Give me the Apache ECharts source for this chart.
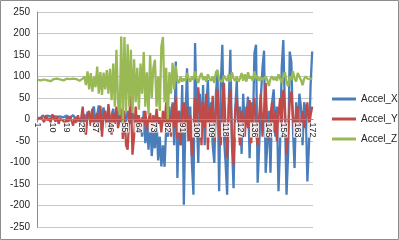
<!DOCTYPE html>
<html><head><meta charset="utf-8">
<script src="https://cdn.jsdelivr.net/npm/echarts@6/dist/echarts.min.js"></script>
<style>html,body{margin:0;padding:0;background:#fff}#c{width:399px;height:240px}</style>
</head><body><div id="c"></div>
<script>
var yTicks = [-250,-200,-150,-100,-50,0,50,100,150,200,250];
var seriesNames = ['Accel_X','Accel_Y','Accel_Z'];
var accelX = [
 4,8,3,10,6,2,9,5,7,3,8,11,6,4,7,10,5,8,9,6,3,7,10,5,8,4,-2,-8,
 5,12,-5,18,8,-10,22,30,-17,10,33,-25,15,28,5,-12,20,-30,
 10,25,-5,15,0,30,-15,-28,10,-5,20,0,-10,15,
 5,-20,10,-30,0,-40,20,-55,-10,-70,10,-85,-30,-67,0,-95,-40,-109,-60,-110,-20,-40,
 30,-20,40,-60,135,-136,20,-60,80,-198,0,119,-50,30,-100,-175,178,20,-101,60,
 -40,80,-60,30,92,-30,40,-60,-101,60,112,-167,80,174,-40,-100,-175,40,162,-60,
 -160,20,90,-40,30,-80,60,-20,10,53,-90,40,-30,155,174,-147,-60,50,120,160,
 -124,-60,20,-124,40,70,-40,30,-167,-60,120,185,20,-175,-80,158,134,-20,-113,40,
 -30,60,30,-60,40,20,-144,-60,80,158
];
var accelY = [
 0,-3,5,2,-6,10,-2,3,-8,12,4,-5,8,-10,2,6,-4,-12,5,-6,8,-3,-14,4,-8,10,-5,2,
 30,-20,-35,10,20,-15,25,-25,5,15,-30,32,-40,10,20,-20,36,0,
 -35,15,-10,30,-20,0,25,-45,20,-60,-70,10,55,-82,
 -40,30,-20,10,-30,5,-15,20,-25,0,15,-30,10,-20,25,-10,5,-30,20,-15,40,-30,
 10,-40,35,-20,53,-45,20,-60,10,40,-30,30,-50,10,-85,-20,50,-40,75,20,
 -60,40,-20,60,-70,30,-10,55,-50,20,70,-30,-60,40,85,-20,-90,30,70,-40,
 -105,20,50,-10,-60,20,10,-40,30,-20,45,-55,20,50,-30,-60,10,60,-40,20,
 85,-20,-47,10,40,-30,20,-50,10,50,-20,69,30,-82,-30,40,65,10,-40,20,
 30,-30,-10,20,-20,10,40,-20,10,30
];
var accelZ = [
 92,92,91,92,93,92,91,90,89,92,94,93,95,92,93,96,91,94,95,93,94,93,95,96,94,93,90,88,
 95,100,80,112,70,108,65,100,75,123,60,110,57,109,70,115,60,118,
 45,130,30,162,40,10,193,-8,192,20,175,30,162,15,
 140,40,120,23,130,60,157,30,110,11,150,50,120,139,30,100,20,170,192,40,120,0,
 110,60,132,70,125,90,85,100,88,95,90,108,95,88,100,92,112,95,85,100,
 108,92,100,88,105,95,90,100,85,110,115,92,95,88,102,95,90,105,88,110,
 95,90,100,88,95,108,90,105,88,110,95,100,90,112,95,100,90,98,92,88,
 100,92,78,95,100,92,98,90,105,95,85,100,110,88,77,100,92,112,95,88,
 108,100,92,80,95,100,95,98,94,96
];
var categories = [];
for (var i = 1; i <= accelX.length; i++) categories.push(String(i));

var chart = echarts.init(document.getElementById('c'), null, {renderer:'canvas'});
var font = 'Liberation Sans, Arial, sans-serif';
var gTop = 12, gBottom = 13, H = 240;
var plotH = H - gTop - gBottom;
var zeroOffset = -plotH * (0 - yTicks[0]) / (yTicks[yTicks.length-1] - yTicks[0]);
function mk(name, data, color){
  return {name:name, type:'line', data:data, symbol:'none', smooth:false,
    lineStyle:{color:color, width:2.3}, itemStyle:{color:color}, animation:false};
}
chart.setOption({
  animation:false,
  graphic:[{type:'rect', shape:{x:0.5,y:0.5,width:398,height:239}, style:{fill:'none', stroke:'#8c8c8c', lineWidth:1}}],
  grid:{left:37, right:86, top:gTop, bottom:gBottom, containLabel:false, outerBoundsMode:'none'},
  legend:{orient:'vertical', left:327, top:89, itemWidth:24, itemHeight:3, itemGap:10, icon:'rect',
    textStyle:{fontFamily:font, fontSize:10, color:'#222'}, data:seriesNames},
  xAxis:{type:'category', data:categories, boundaryGap:true, position:'bottom', offset:zeroOffset, z:10,
    axisLine:{onZero:false, lineStyle:{color:'#8c8c8c', width:1}},
    axisTick:{show:false},
    axisLabel:{interval:8, rotate:-90, fontSize:9, fontFamily:font, color:'#222', margin:3,
      backgroundColor:'rgba(255,255,255,0.85)', padding:[0,0,0,0]}},
  yAxis:{type:'value', min:yTicks[0], max:yTicks[yTicks.length-1], interval:50,
    axisLine:{show:true, lineStyle:{color:'#8c8c8c'}},
    axisTick:{show:false},
    splitLine:{lineStyle:{color:'#c8c8c8', width:1}},
    axisLabel:{fontSize:10, fontFamily:font, color:'#222', margin:7}},
  series:[mk(seriesNames[0], accelX, '#4a7ebb'), mk(seriesNames[1], accelY, '#be4b48'), mk(seriesNames[2], accelZ, '#98b954')]
});
</script></body></html>
